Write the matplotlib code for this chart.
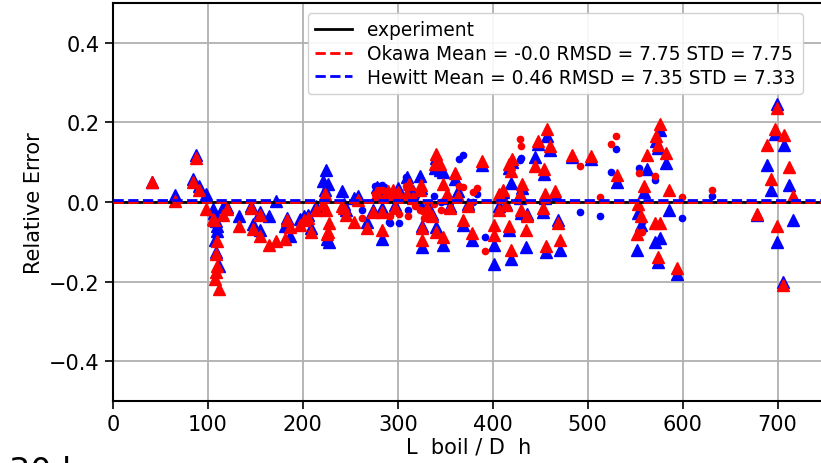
import matplotlib
matplotlib.use("Agg")
import matplotlib.pyplot as plt
from matplotlib.lines import Line2D

# ---- data: triangles (x, Okawa error, Hewitt error) ----
x_tri = [40.7, 65.2, 83.8, 87.3, 90.8, 98.0, 105.5, 106.5, 108.4, 109.8, 108.0, 107.4, 111.9, 109.8,
         116.0, 119.6, 132.8, 145.8, 147.5, 154.6, 154.6, 164.4, 172.0, 180.9, 183.0, 186.0,
         196.6, 201.0, 205.0, 209.0, 214.0, 221.0, 223.0, 224.7, 226.6, 228.0, 225.0,
         241.0, 243.8, 245.7, 254.3, 258.0, 267.7, 273.4, 278.0, 283.0, 283.0, 287.8, 290.0,
         295.0, 297.3, 300.0, 309.3, 311.7, 315.5, 323.6, 324.0, 325.0, 326.0, 330.8, 335.6,
         340.3, 339.4, 344.0, 347.5, 340.0, 347.5, 352.0, 354.7, 360.4, 363.3, 369.0, 378.6,
         374.0, 389.0, 401.5, 401.5, 407.0, 407.0, 411.0, 417.0, 420.7, 419.0, 414.4, 417.0,
         419.0, 428.8, 431.0, 430.0, 436.0, 435.0, 444.5, 448.0, 454.0, 457.5, 460.8, 452.7,
         455.0, 456.0, 466.0, 469.0, 470.8, 483.7, 503.0, 530.7, 553.0, 552.0, 559.4, 562.0,
         556.0, 571.0, 576.0, 574.0, 576.0, 571.6, 574.0, 582.0, 585.7, 594.4, 678.6, 699.0,
         697.5, 689.0, 692.6, 706.6, 699.0, 706.0, 712.6, 716.0]
okawa_tri = [0.051, 0.003, 0.051, 0.111, 0.031, -0.018, -0.042, -0.045, -0.131, -0.160, -0.175, -0.193, -0.219, -0.097,
             -0.033, -0.018, -0.061, -0.014, -0.068, -0.033, -0.085, -0.108, -0.097, -0.093, -0.045, -0.062,
             -0.058, -0.045, -0.041, -0.075, -0.020, -0.005, 0.020, -0.019, -0.075, -0.053, -0.080,
             -0.010, -0.015, -0.032, -0.049, 0.005, -0.066, -0.024, 0.020, -0.070, -0.024, 0.020, 0.027,
             0.031, -0.015, 0.025, 0.020, 0.044, 0.010, 0.030, 0.042, -0.096, -0.066, -0.015, -0.036,
             0.120, 0.095, 0.095, 0.044, -0.075, -0.087, 0.019, -0.015, 0.072, 0.015, -0.045, -0.079,
             -0.011, 0.103, -0.083, -0.058, -0.019, 0.019, 0.031, 0.095, 0.108, 0.078, -0.007, -0.060,
             -0.121, 0.019, 0.044, -0.020, -0.036, -0.070, 0.091, 0.154, 0.082, 0.184, 0.141, -0.015,
             0.019, -0.110, 0.027, -0.053, -0.096, 0.119, 0.115, 0.069, -0.005, -0.080, 0.041, 0.117,
             -0.035, -0.054, -0.054, -0.139, 0.195, 0.167, 0.144, 0.123, 0.030, -0.167, -0.030, 0.236,
             0.184, 0.144, 0.058, 0.169, -0.060, -0.209, 0.087, 0.016]
hewitt_tri = [0.049, 0.018, 0.057, 0.117, 0.039, 0.020, -0.018, -0.028, -0.047, -0.073, -0.125, -0.095, -0.160, -0.060,
              -0.013, -0.012, -0.036, -0.010, -0.055, -0.026, -0.070, -0.034, 0.003, -0.060, -0.041, -0.085,
              -0.042, -0.035, -0.032, -0.066, -0.011, 0.054, 0.030, 0.080, 0.044, -0.100, -0.093,
              0.027, -0.005, -0.020, 0.010, 0.014, -0.050, -0.019, 0.037, -0.092, -0.015, 0.031, 0.015,
              0.020, -0.008, 0.036, 0.063, 0.030, 0.027, 0.065, 0.035, -0.113, -0.060, -0.010, -0.030,
              0.110, 0.085, 0.080, 0.075, -0.062, -0.108, 0.010, -0.010, 0.057, 0.027, -0.058, -0.096,
              -0.005, 0.093, -0.108, -0.155, -0.010, 0.012, 0.025, 0.086, 0.100, 0.048, -0.005, -0.070,
              -0.142, 0.010, 0.035, -0.028, -0.030, -0.113, 0.112, 0.146, 0.070, 0.167, 0.130, -0.024,
              0.010, -0.125, 0.020, -0.045, -0.121, 0.112, 0.108, 0.051, -0.028, -0.121, 0.026, 0.083,
              -0.058, -0.100, -0.090, -0.152, 0.180, 0.154, 0.135, 0.098, -0.019, -0.181, -0.032, 0.247,
              0.170, 0.093, 0.031, 0.144, -0.100, -0.200, 0.043, -0.045]

# ---- data: dots (x, Okawa error, Hewitt error) ----
x_dot = [262.0, 275.5, 279.0, 283.0, 291.0, 291.6, 301.6, 308.8, 310.5, 318.0, 323.0, 328.0, 333.0,
         338.0, 345.0, 364.0, 369.0, 376.0, 379.0, 383.0, 392.0, 428.8, 430.0, 491.8, 513.0, 525.0,
         530.0, 554.0, 557.7, 571.0, 599.7, 630.5]
okawa_dot = [-0.041, 0.020, 0.030, 0.030, -0.035, -0.036, -0.030, 0.040, -0.036, -0.010, -0.020, -0.040, -0.030,
             -0.005, -0.020, 0.041, 0.038, -0.005, 0.024, 0.036, -0.123, 0.158, 0.141, 0.091, 0.013, 0.146,
             0.167, 0.072, -0.076, 0.065, 0.013, 0.030]
hewitt_dot = [-0.020, 0.040, 0.040, 0.042, -0.051, -0.053, -0.053, 0.062, -0.020, 0.010, -0.005, -0.015, -0.010,
              0.015, 0.000, 0.108, 0.119, -0.015, 0.000, 0.020, -0.089, 0.105, 0.110, -0.024, -0.036, 0.075,
              0.132, 0.086, -0.050, 0.056, -0.041, 0.016]

okawa_mean = -0.0003
hewitt_mean = 0.0046
labels = ["experiment",
          "Okawa Mean = -0.0 RMSD = 7.75 STD = 7.75",
          "Hewitt Mean = 0.46 RMSD = 7.35 STD = 7.33"]

W, H = 821, 464
fig = plt.figure(figsize=(W / 100, H / 100), dpi=100)
ax = fig.add_axes([113 / W, 62 / H, 712 / W, 398 / H])

ax.plot(x_tri, hewitt_tri, linestyle='none', marker='^', ms=8.5, color='blue', zorder=3)
ax.plot(x_dot, hewitt_dot, linestyle='none', marker='o', ms=4.5, color='blue', zorder=3)
ax.plot(x_tri, okawa_tri, linestyle='none', marker='^', ms=8.5, color='red', zorder=4)
ax.plot(x_dot, okawa_dot, linestyle='none', marker='o', ms=4.5, color='red', zorder=4)

l0 = ax.axhline(0.0, color='black', lw=2, zorder=5)
l1 = ax.axhline(okawa_mean, color='red', lw=2, ls='--', zorder=6)
l2 = ax.axhline(hewitt_mean, color='blue', lw=2, ls='--', zorder=7)

ax.set_xlim(0, 750)
ax.set_ylim(-0.5, 0.5)
ax.set_xticks([0, 100, 200, 300, 400, 500, 600, 700])
ax.set_yticks([-0.4, -0.2, 0.0, 0.2, 0.4])
ax.tick_params(labelsize=15, length=6, width=1.2)
ax.grid(True, color='#b0b0b0', lw=1.3)
ax.set_axisbelow(True)
for s in ax.spines.values():
    s.set_linewidth(1.5)

ax.set_xlabel("L  boil / D  h", fontsize=15, labelpad=1.5)
ax.set_ylabel("Relative Error", fontsize=15)

ax.legend([l0, l1, l2], labels, loc='upper right', fontsize=13.4,
          bbox_to_anchor=(803 / W, 1 - 14 / H), bbox_transform=fig.transFigure,
          borderaxespad=0, labelspacing=0.25, framealpha=0.9)

fig.text(9 / W, -0.039, "30 k", fontsize=24, ha='left', va='baseline')

fig.savefig("out.png", dpi=100)
